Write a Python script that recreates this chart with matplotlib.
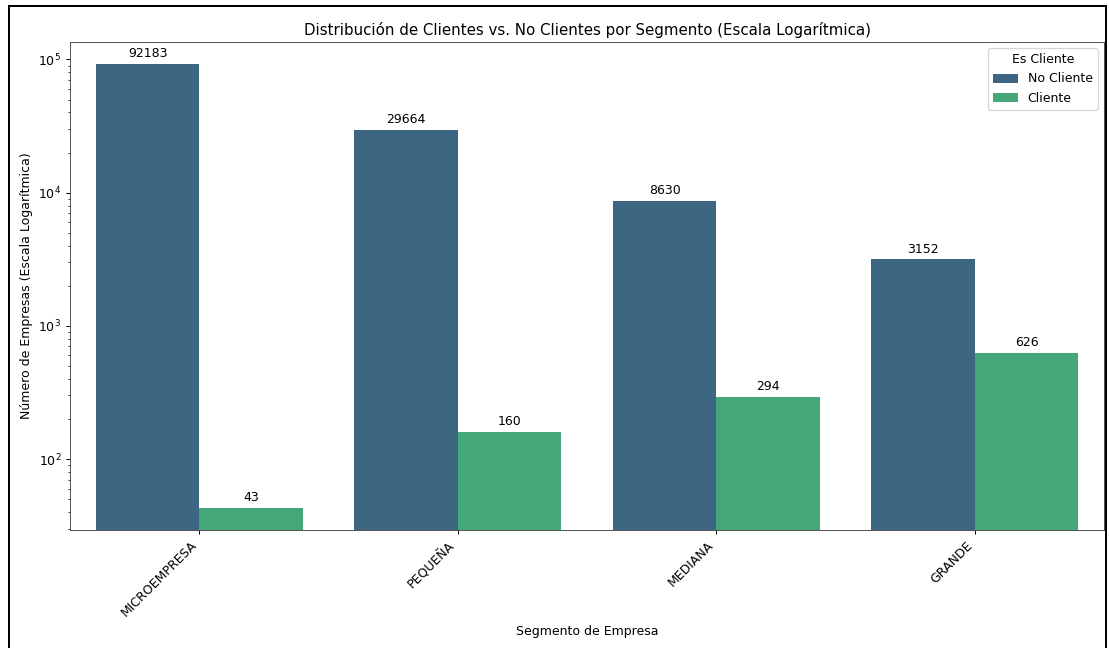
import matplotlib
matplotlib.use("Agg")
import matplotlib.pyplot as plt
from matplotlib.patches import Rectangle
import numpy as np
import seaborn as sns

segmentos = ["MICROEMPRESA", "PEQUEÑA", "MEDIANA", "GRANDE"]
no_cliente = [92183, 29664, 8630, 3152]
cliente = [43, 160, 294, 626]
series_labels = ["No Cliente", "Cliente"]

pal = sns.color_palette("viridis", 2)
colors = [sns.desaturate(c, 0.75) for c in pal]

W, H, DPI = 1109, 648, 90
fig = plt.figure(figsize=(W / DPI, H / DPI), dpi=DPI)
ax = fig.add_axes([70 / W, (H - 530) / H, (1104 - 70) / W, (530 - 42) / H])

x = np.arange(len(segmentos))
w = 0.4
b1 = ax.bar(x - w / 2, no_cliente, width=w, color=colors[0], label=series_labels[0])
b2 = ax.bar(x + w / 2, cliente, width=w, color=colors[1], label=series_labels[1])
ax.set_yscale("log")
ax.set_xlim(-0.5, len(segmentos) - 0.5)
lo = np.log10(min(cliente)); hi = np.log10(max(no_cliente))
m = 0.05 * (hi - lo)
ax.set_ylim(10 ** (lo - m), 10 ** (hi + m))

ax.bar_label(b1, labels=[str(v) for v in no_cliente], padding=3, fontsize=10)
ax.bar_label(b2, labels=[str(v) for v in cliente], padding=3, fontsize=10)

ax.set_xticks(x)
ax.set_xticklabels(segmentos, rotation=45, ha="right")
ax.set_title("Distribución de Clientes vs. No Clientes por Segmento (Escala Logarítmica)", fontsize=12)
ax.set_xlabel("Segmento de Empresa", fontsize=10)
ax.set_ylabel("Número de Empresas (Escala Logarítmica)", fontsize=10)
for s in ax.spines.values():
    s.set_color("#555555")
ax.legend(title="Es Cliente", loc="upper right", fontsize=10, title_fontsize=10)

fig.patches.append(Rectangle((9 / W, -0.05), (1106 - 9) / W, 1.05 - 6 / H,
                             transform=fig.transFigure, fill=False,
                             edgecolor="black", linewidth=1.6))

fig.savefig("out.png", dpi=DPI)
